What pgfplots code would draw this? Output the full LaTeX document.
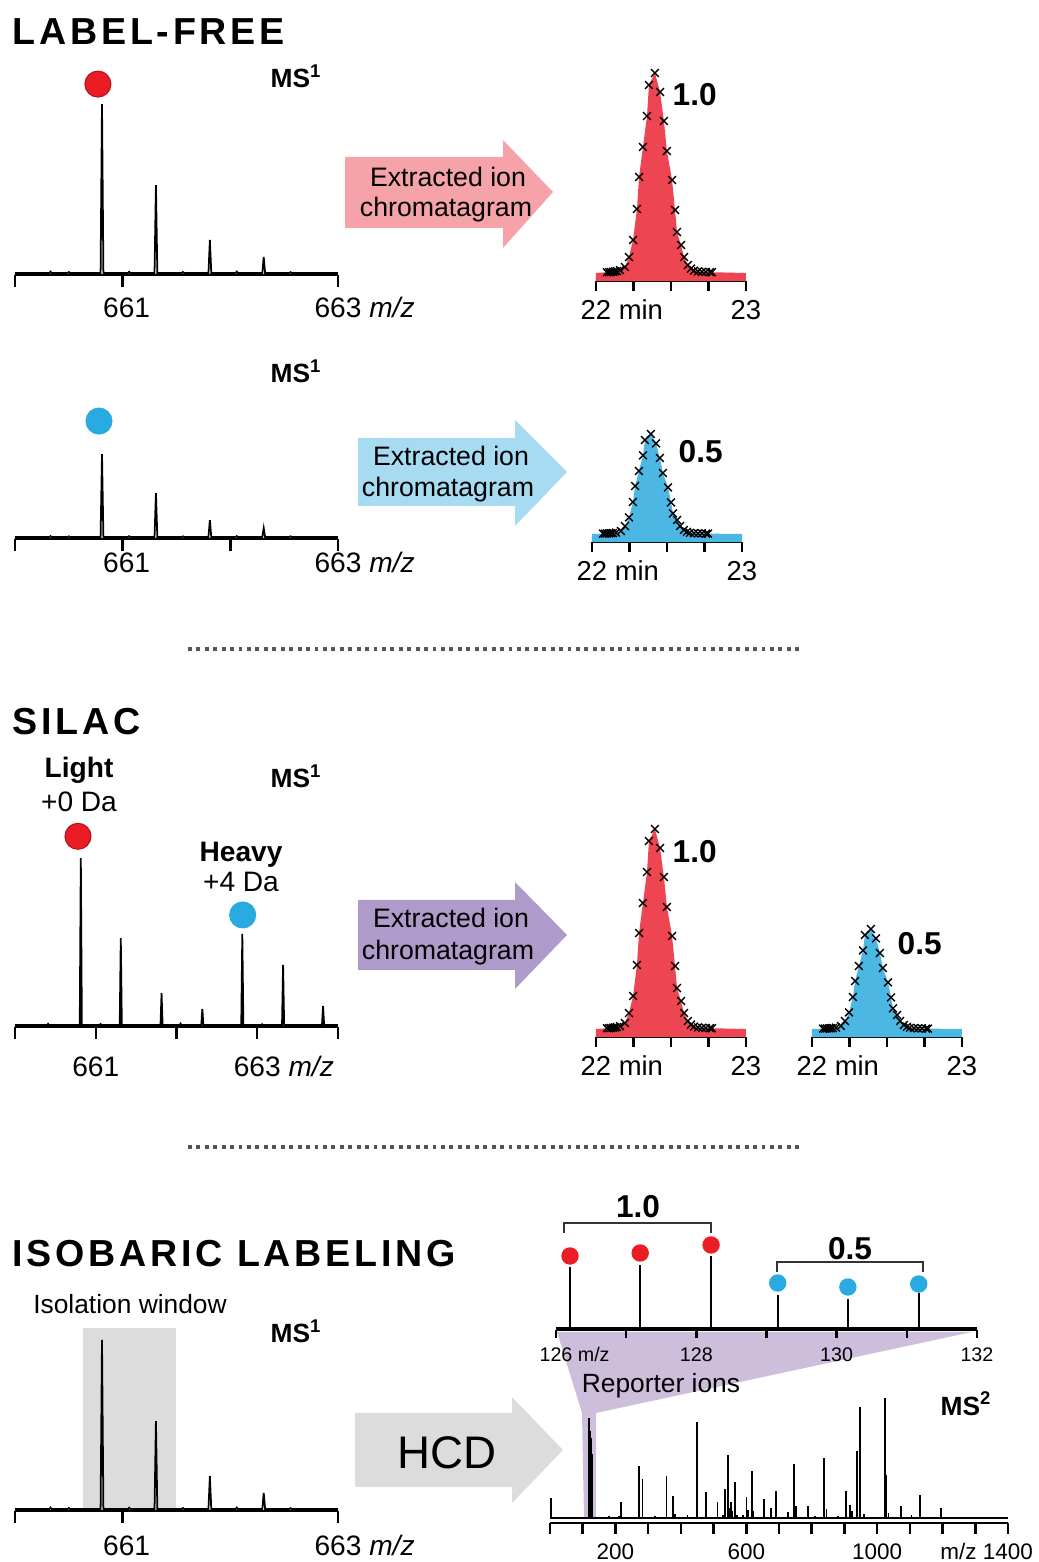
\documentclass[border=0pt]{standalone}
\usepackage{pgfplots}
\pgfplotsset{compat=1.18}
\usepackage{fontspec}
\setmainfont{Liberation Sans}
\newfontfamily\titlefont[LetterSpace=10]{Liberation Sans}

\definecolor{cred}{HTML}{EE4553}
\definecolor{dotred}{HTML}{EC1C24}
\definecolor{cblue}{HTML}{4DB7E3}
\definecolor{dotblue}{HTML}{29ABE2}
\definecolor{apink}{HTML}{F5A3A8}
\definecolor{ablue}{HTML}{A6DBF2}
\definecolor{apurple}{HTML}{AF9BCA}
\definecolor{agrey}{HTML}{DCDCDC}
\definecolor{ppurple}{HTML}{CDBEDC}
\definecolor{sepgrey}{HTML}{555555}

\newcommand{\fs}[1]{\fontsize{#1}{#1}\selectfont}

\pgfplotsset{
  msaxis/.style={
    scale only axis, clip=false,
    hide y axis, axis x line*=bottom,
    axis line style={line width=0.7pt},
    tick align=outside,
    major tick length=1.2mm,
    tick style={line width=0.7pt, black},
    xticklabel style={font=\fs{8}, anchor=base, inner sep=0pt},
  },
  ms1/.style={msaxis, width=32.3mm, height=17.1mm,
    xmin=660, xmax=663, ymin=-1.2, ymax=100},
  chrom/.style={msaxis, width=15mm, height=20.8mm,
    xmin=22, xmax=23, ymin=-0.04, ymax=1,
    major tick length=1.0mm,
    xtick={22,22.25,22.5,22.75,23},
    xticklabels={22\rlap{ min},,,,23},
    xticklabel style={font=\fs{7.8}, yshift=-2.8mm}},
  spec/.style={black, line width=0.5pt},
  xmk/.style={only marks, mark=x, mark size=0.55mm,
    mark options={line width=0.4pt, black}},
  reddot/.style={only marks, mark=*, mark size=1.3mm,
    mark options={fill=dotred, draw=dotred!75!black, line width=0.3pt}},
  bluedot/.style={only marks, mark=*, mark size=1.3mm,
    mark options={fill=dotblue, draw=dotblue, line width=0.3pt}},
}

% isotope envelope of the precursor (charge 2+)
\pgfplotstableread{
mz       int
660.000  0
660.320  0
660.330  0.8
660.340  0
660.490  0
660.500  0.6
660.510  0
660.795  0
660.808  100
660.821  0
661.050  0
661.060  0.7
661.070  0
661.296  0
661.309  52
661.322  0
661.550  0
661.560  0.6
661.570  0
661.797  0
661.810  19.5
661.823  0
662.050  0
662.060  0.8
662.070  0
662.297  0
662.310  9.5
662.323  0
662.550  0
662.560  0.5
662.570  0
663.000  0
}\envfull

\pgfplotstableread{
mz       int
660.000  0
660.320  0
660.330  0.5
660.340  0
660.490  0
660.500  0.4
660.510  0
660.795  0
660.808  49
660.821  0
661.050  0
661.060  0.5
661.070  0
661.296  0
661.309  26
661.322  0
661.550  0
661.560  0.4
661.570  0
661.797  0
661.810  10
661.823  0
662.050  0
662.060  0.5
662.070  0
662.297  0
662.310  5.3
662.323  0
662.550  0
662.560  0.4
662.570  0
663.000  0
}\envhalf

% SILAC light / heavy pair
\pgfplotstableread{
mz       int
660.000  0
660.400  0
660.410  0.7
660.420  0
660.802  0
660.815  100
660.828  0
661.050  0
661.060  0.6
661.070  0
661.297  0
661.310  52
661.323  0
661.802  0
661.815  19
661.828  0
662.040  0
662.050  0.8
662.060  0
662.307  0
662.320  9.6
662.333  0
662.802  0
662.815  54.5
662.828  0
663.050  0
663.060  0.5
663.070  0
663.307  0
663.320  36
663.333  0
663.802  0
663.815  11.4
663.828  0
664.000  0
}\silac

% extracted ion chromatogram, relative intensity
\pgfplotstableread{
t       full    half
22.073  0.004   0.002
22.087  0.004   0.002
22.100  0.005   0.003
22.113  0.006   0.003
22.127  0.008   0.004
22.140  0.010   0.005
22.160  0.014   0.007
22.193  0.030   0.015
22.220  0.080   0.040
22.247  0.165   0.083
22.273  0.320   0.160
22.287  0.480   0.240
22.313  0.630   0.315
22.340  0.785   0.393
22.353  0.940   0.470
22.393  1.000   0.500
22.427  0.905   0.453
22.453  0.760   0.380
22.473  0.610   0.305
22.507  0.465   0.233
22.527  0.315   0.158
22.540  0.205   0.103
22.567  0.140   0.070
22.587  0.080   0.040
22.613  0.040   0.020
22.633  0.022   0.011
22.653  0.012   0.006
22.680  0.008   0.004
22.707  0.006   0.003
22.733  0.005   0.003
22.760  0.004   0.002
22.773  0.004   0.002
}\xic

% HCD fragment spectrum (stick list)
\pgfplotstableread{
mz    int
2     61
120   301
122   180
124   263
126   240
128   193
130   150
181   5
212   6
217   48
240   4
273   155
283   116
320   5
356   126
377   66
383   12
420   8
450   288
476   78
490   4
512   48
530   10
536   86
545   190
549   30
553   48
558   20
565   108
572   10
591   10
601   63
606   25
617   140
622   20
654   58
676   30
692   80
728   18
746   162
751   36
789   36
810   5
838   182
845   28
880   6
904   81
918   38
924   20
939   203
947   333
960   12
1023  361
1028  128
1035  15
1072  36
1105  8
1130  68
1148  4
1196  31
1230  4
1250  3
1265  3
}\msms

\begin{document}
\begin{tikzpicture}[x=0.1mm, y=0.1mm]
\useasboundingbox (0,0) rectangle (1039,1562);

% ---------------- section titles ----------------
\node[anchor=base west, inner sep=0, font=\titlefont\bfseries\fs{10.7}] at (12,1517) {LABEL-FREE};
\node[anchor=base west, inner sep=0, font=\titlefont\bfseries\fs{10.7}] at (12,827) {SILAC};
\node[anchor=base west, inner sep=0, font=\titlefont\bfseries\fs{10.7}] at (12,295) {ISOBARIC LABELING};

% separators
\draw[sepgrey, line width=1.1pt, dash pattern=on 1.1pt off 1.3pt] (188,913) -- (803,913);
\draw[sepgrey, line width=1.1pt, dash pattern=on 1.1pt off 1.3pt] (188,415) -- (803,415);

% ---------------- arrows ----------------
\fill[apink] (345,1405) -- (503,1405) -- (503,1422) -- (553,1370) -- (503,1314) -- (503,1334) -- (345,1334) -- cycle;
\fill[ablue] (358,1124) -- (515,1124) -- (515,1142) -- (567,1090) -- (515,1036) -- (515,1056) -- (358,1056) -- cycle;
\fill[apurple] (358,662) -- (515,662) -- (515,680) -- (567,627) -- (515,573) -- (515,592) -- (358,592) -- cycle;
\fill[agrey] (355,149) -- (512,149) -- (512,165) -- (563,112) -- (512,59) -- (512,75) -- (355,75) -- cycle;

\node[anchor=base, inner sep=0, font=\fs{7.6}] at (448,1375) {Extracted ion};
\node[anchor=base, inner sep=0, font=\fs{7.6}] at (446,1345) {chromatagram};
\node[anchor=base, inner sep=0, font=\fs{7.6}] at (451,1096) {Extracted ion};
\node[anchor=base, inner sep=0, font=\fs{7.6}] at (448,1065) {chromatagram};
\node[anchor=base, inner sep=0, font=\fs{7.6}] at (451,634) {Extracted ion};
\node[anchor=base, inner sep=0, font=\fs{7.6}] at (448,602) {chromatagram};
\node[anchor=base, inner sep=0, font=\fs{13}] at (447,94) {HCD};

% reporter-ion zoom wedge
\fill[ppurple] (557,230) -- (972,230) -- (596,149) -- (596,43) -- (584,43) -- (582,149) -- cycle;

% ---------------- LABEL-FREE, sample 1 ----------------
\begin{axis}[ms1, at={(1.5mm,128.7mm)}, anchor=south west,
  xtick={660,661,663}, xticklabels={,\hspace{0.8mm}661,663\rlap{ \textit{m/z}}},
  xticklabel style={yshift=-3.0mm}]
\addplot[spec] table[x=mz, y=int] {\envfull};
\addplot[reddot] coordinates {(660.77,111.8)};
\end{axis}
\node[anchor=base west, inner sep=0, font=\bfseries\fs{7.5}] at (270,1474) {MS\textsuperscript{1}};

\begin{axis}[chrom, at={(59.6mm,128.1mm)}, anchor=south west]
\addplot[fill=cred, draw=none] coordinates {(22,-0.04) (22,0) (22.073,0.004) (22.100,0.005) (22.140,0.010) (22.160,0.014) (22.193,0.030) (22.220,0.080) (22.247,0.165) (22.273,0.320) (22.287,0.480) (22.313,0.630) (22.340,0.785) (22.353,0.940) (22.393,1.000) (22.427,0.905) (22.453,0.760) (22.473,0.610) (22.507,0.465) (22.527,0.315) (22.540,0.205) (22.567,0.140) (22.587,0.080) (22.613,0.040) (22.633,0.022) (22.653,0.012) (22.680,0.008) (22.733,0.005) (22.773,0.004) (23,0) (23,-0.04)} -- cycle;
\addplot[xmk] table[x=t, y=full] {\xic};
\end{axis}
\node[anchor=base west, inner sep=0, font=\bfseries\fs{9}] at (672,1456) {1.0};

% ---------------- LABEL-FREE, sample 2 ----------------
\begin{axis}[ms1, at={(1.5mm,102.3mm)}, anchor=south west,
  xtick={660,661,662,663}, xticklabels={,\hspace{0.8mm}661,,663\rlap{ \textit{m/z}}},
  xticklabel style={yshift=-2.1mm}]
\addplot[spec] table[x=mz, y=int] {\envhalf};
\addplot[bluedot] coordinates {(660.78,68.6)};
\end{axis}
\node[anchor=base west, inner sep=0, font=\bfseries\fs{7.5}] at (270,1179) {MS\textsuperscript{1}};

\begin{axis}[chrom, at={(59.2mm,102.0mm)}, anchor=south west]
\addplot[fill=cblue, draw=none] coordinates {(22,-0.04) (22,0) (22.073,0.002) (22.100,0.003) (22.140,0.005) (22.160,0.007) (22.193,0.015) (22.220,0.040) (22.247,0.083) (22.273,0.160) (22.287,0.240) (22.313,0.315) (22.340,0.393) (22.353,0.470) (22.393,0.500) (22.427,0.453) (22.453,0.380) (22.473,0.305) (22.507,0.233) (22.527,0.158) (22.540,0.103) (22.567,0.070) (22.587,0.040) (22.613,0.020) (22.633,0.011) (22.653,0.006) (22.680,0.004) (22.733,0.003) (22.773,0.002) (23,0) (23,-0.04)} -- cycle;
\addplot[xmk] table[x=t, y=half] {\xic};
\end{axis}
\node[anchor=base west, inner sep=0, font=\bfseries\fs{9}] at (678,1099) {0.5};

% ---------------- SILAC ----------------
\begin{axis}[msaxis, at={(1.5mm,53.5mm)}, anchor=south west,
  width=32.3mm, height=16.9mm,
  xmin=660, xmax=664, ymin=-1.2, ymax=100,
  xtick={660,661,662,663,664}, xticklabels={,661,,663\rlap{ \textit{m/z}},},
  xticklabel style={yshift=-3.7mm}]
\addplot[spec] table[x=mz, y=int] {\silac};
\addplot[reddot] coordinates {(660.78,113)};
\addplot[bluedot] coordinates {(662.82,65.9)};
\end{axis}
\node[anchor=base west, inner sep=0, font=\bfseries\fs{7.5}] at (270,774) {MS\textsuperscript{1}};
\node[anchor=base, inner sep=0, font=\bfseries\fs{8}] at (79,784) {Light};
\node[anchor=base, inner sep=0, font=\fs{8}] at (79,750) {+0 Da};
\node[anchor=base, inner sep=0, font=\bfseries\fs{8}] at (241,700) {Heavy};
\node[anchor=base, inner sep=0, font=\fs{8}] at (241,670) {+4 Da};

\begin{axis}[chrom, at={(59.6mm,52.5mm)}, anchor=south west]
\addplot[fill=cred, draw=none] coordinates {(22,-0.04) (22,0) (22.073,0.004) (22.100,0.005) (22.140,0.010) (22.160,0.014) (22.193,0.030) (22.220,0.080) (22.247,0.165) (22.273,0.320) (22.287,0.480) (22.313,0.630) (22.340,0.785) (22.353,0.940) (22.393,1.000) (22.427,0.905) (22.453,0.760) (22.473,0.610) (22.507,0.465) (22.527,0.315) (22.540,0.205) (22.567,0.140) (22.587,0.080) (22.613,0.040) (22.633,0.022) (22.653,0.012) (22.680,0.008) (22.733,0.005) (22.773,0.004) (23,0) (23,-0.04)} -- cycle;
\addplot[xmk] table[x=t, y=full] {\xic};
\end{axis}
\node[anchor=base west, inner sep=0, font=\bfseries\fs{9}] at (672,699) {1.0};

\begin{axis}[chrom, at={(81.2mm,52.5mm)}, anchor=south west]
\addplot[fill=cblue, draw=none] coordinates {(22,-0.04) (22,0) (22.073,0.002) (22.100,0.003) (22.140,0.005) (22.160,0.007) (22.193,0.015) (22.220,0.040) (22.247,0.083) (22.273,0.160) (22.287,0.240) (22.313,0.315) (22.340,0.393) (22.353,0.470) (22.393,0.500) (22.427,0.453) (22.453,0.380) (22.473,0.305) (22.507,0.233) (22.527,0.158) (22.540,0.103) (22.567,0.070) (22.587,0.040) (22.613,0.020) (22.633,0.011) (22.653,0.006) (22.680,0.004) (22.733,0.003) (22.773,0.002) (23,0) (23,-0.04)} -- cycle;
\addplot[xmk] table[x=t, y=half] {\xic};
\end{axis}
\node[anchor=base west, inner sep=0, font=\bfseries\fs{9}] at (897,607) {0.5};

% ---------------- ISOBARIC LABELING ----------------
\begin{axis}[ms1, at={(1.5mm,5.1mm)}, anchor=south west,
  xtick={660,661,663}, xticklabels={,\hspace{0.8mm}661,663\rlap{ \textit{m/z}}},
  xticklabel style={yshift=-3.2mm}]
\addplot[fill=agrey, draw=none] coordinates {(660.63,0) (660.63,107) (661.50,107) (661.50,0)} -- cycle;
\addplot[spec] table[x=mz, y=int] {\envfull};
\end{axis}
\node[anchor=base, inner sep=0, font=\fs{7.5}] at (130,248) {Isolation window};
\node[anchor=base west, inner sep=0, font=\bfseries\fs{7.5}] at (270,219) {MS\textsuperscript{1}};

% reporter ions
\begin{axis}[msaxis, at={(55.6mm,23.2mm)}, anchor=south west,
  width=42.1mm, height=8.2mm,
  xmin=126, xmax=132, ymin=-2, ymax=80,
  major tick length=0.8mm,
  xtick={126,127,128,129,130,131,132},
  xticklabels={126\rlap{ m/z},,128,,130,,132},
  xticklabel style={font=\fs{5.6}, yshift=-2.3mm}]
\addplot[black, line width=0.8pt] coordinates {(126,0) (132,0)};
\addplot[ycomb, black, line width=0.6pt] coordinates {(126.2,61) (127.2,63) (128.21,72) (129.16,33) (130.16,29) (131.17,35)};
\addplot[only marks, mark=*, mark size=0.8mm, mark options={fill=dotred, draw=dotred}] coordinates {(126.2,72) (127.2,75) (128.21,83)};
\addplot[only marks, mark=*, mark size=0.8mm, mark options={fill=dotblue, draw=dotblue}] coordinates {(129.16,45) (130.16,41) (131.17,44)};
\end{axis}
\draw[black!80, line width=0.6pt] (564,329) -- (564,339) -- (711,339) -- (711,329);
\draw[black!80, line width=0.6pt] (777,290) -- (777,300) -- (923,300) -- (923,290);
\node[anchor=base, inner sep=0, font=\bfseries\fs{9}] at (638,344) {1.0};
\node[anchor=base, inner sep=0, font=\bfseries\fs{9}] at (850,302) {0.5};
\node[anchor=base, inner sep=0, font=\fs{7.5}] at (661,169) {Reporter ions};

% MS2 spectrum
\begin{axis}[msaxis, at={(55.0mm,3.9mm)}, anchor=south west,
  width=45.8mm, height=12.5mm,
  xmin=0, xmax=1400, ymin=-15, ymax=361,
  major tick length=1.1mm,
  xtick={0,100,...,1400},
  xticklabels={,,200,,,,600,,,,1000,,,,\llap{m/z }1400},
  xticklabel style={font=\fs{6.4}, yshift=-2.5mm}]
\addplot[black, line width=0.4pt] coordinates {(0,0) (1400,0)};
\addplot[ycomb, black, line width=0.5pt] table[x=mz, y=int] {\msms};
\end{axis}
\node[anchor=base west, inner sep=0, font=\bfseries\fs{7.5}] at (940,147) {MS\textsuperscript{2}};

\end{tikzpicture}
\end{document}
